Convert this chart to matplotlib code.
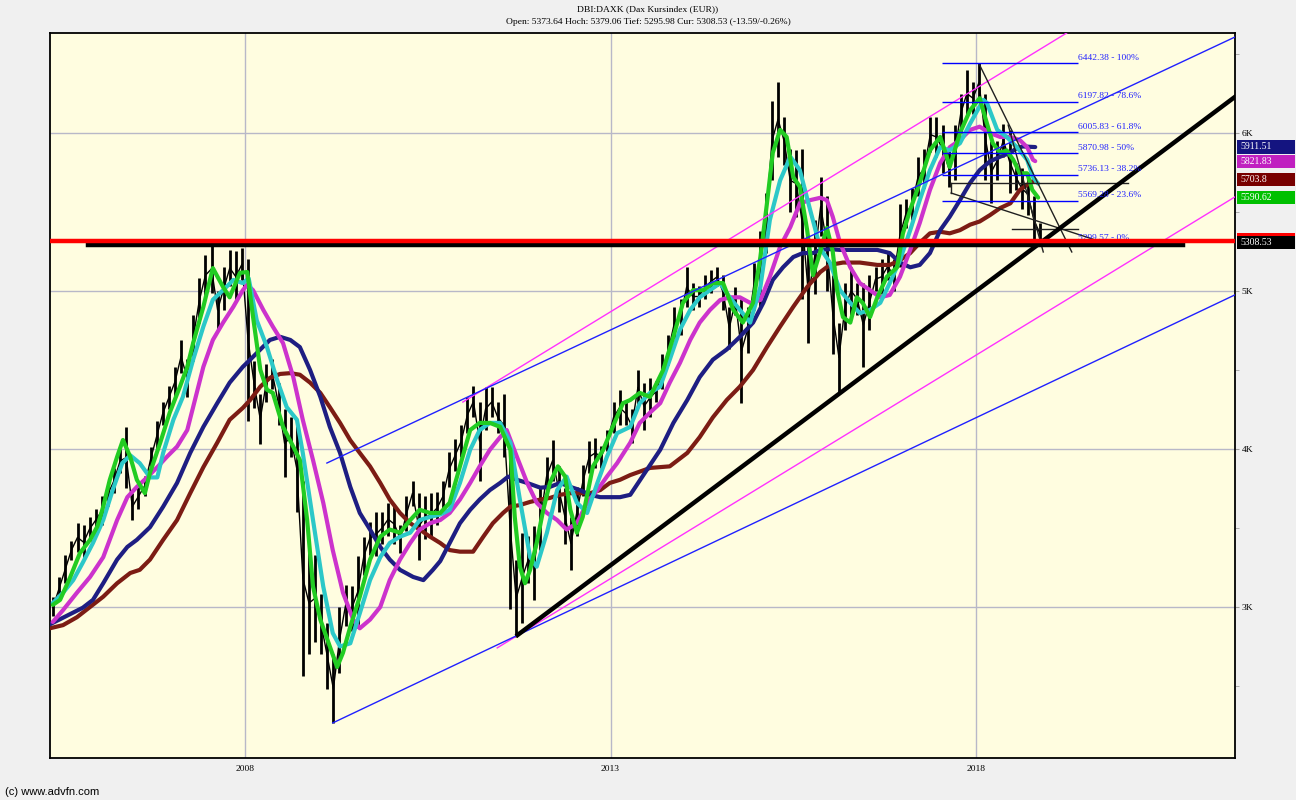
import matplotlib
matplotlib.use("Agg")
import matplotlib.pyplot as plt
import matplotlib.transforms as mtrans
from matplotlib.patches import Rectangle
import numpy as np

plt.rcParams["font.family"] = ["Liberation Serif", "DejaVu Serif"]

# monthly high / low of the index, May 2005 .. Nov 2018
bar_high = [
    3060, 3190, 3330, 3420, 3530, 3520, 3570, 3620,
    3700, 3790, 3880, 4000, 4140, 3720, 3780, 3830, 4010, 4180, 4300, 4400,
    4520, 4690, 4570, 4850, 5080, 5230, 5290, 5000, 5150, 5260, 5250, 5270,
    5200, 4560, 4350, 4540, 4570, 4420, 4250, 4200, 4150, 3800, 3350, 3330,
    3080, 2900, 2700, 3000, 3140, 3130, 3320, 3440, 3540, 3600, 3600, 3660,
    3650, 3520, 3700, 3800, 3720, 3700, 3720, 3730, 3800, 3980, 4060, 4150,
    4330, 4400, 4300, 4390, 4395, 4300, 4350, 4050, 3300, 3470, 3450, 3510,
    3750, 3950, 4055, 3890, 3750, 3570, 3760, 3900, 4050, 4070, 4020, 4120,
    4300, 4375, 4300, 4250, 4500, 4420, 4450, 4430, 4600, 4720, 4900, 4950,
    5150, 5050, 5030, 5100, 5130, 5150, 5100, 4900, 5025, 4950, 4900, 5180,
    5380, 5620, 6200, 6323, 6100, 5900, 5890, 5900, 5280, 5450, 5720, 5600,
    5100, 4800, 5050, 5150, 5050, 5050, 5100, 5150, 5200, 5240, 5200, 5550,
    5580, 5650, 5850, 5900, 6100, 6100, 6050, 5900, 6050, 6250, 6400, 6320,
    6442, 6250, 5950, 5950, 6060, 6020, 5810, 5780, 5745, 5600, 5430,
]
bar_low = [
    2940, 3050, 3150, 3300, 3350, 3300, 3420, 3480,
    3520, 3640, 3720, 3850, 3750, 3550, 3620, 3700, 3860, 3980, 4150, 4250,
    4330, 4480, 4330, 4560, 4800, 4970, 4990, 4760, 4880, 5030, 4930, 5070,
    4180, 4260, 4030, 4300, 4380, 4150, 3820, 3950, 3600, 2560, 2700, 2780,
    2700, 2480, 2265, 2580, 2880, 2850, 2870, 3200, 3330, 3320, 3400, 3450,
    3400, 3340, 3480, 3640, 3300, 3430, 3450, 3520, 3600, 3760, 3860, 3950,
    4100, 4200, 3800, 4120, 4200, 4100, 3950, 2990, 2810, 2900, 3150, 3045,
    3360, 3700, 3800, 3600, 3400, 3235, 3450, 3700, 3850, 3880, 3880, 3990,
    4100, 4150, 4150, 4040, 4280, 4120, 4200, 4300, 4380, 4530, 4700, 4720,
    4900, 4880, 4900, 4950, 4990, 5030, 4880, 4630, 4850, 4290, 4610, 4880,
    4900, 5240, 5700, 5850, 5800, 5500, 5470, 4950, 4670, 4980, 5350, 5000,
    4600, 4360, 4750, 4850, 4850, 4520, 4750, 5000, 4980, 5070, 5000, 5150,
    5400, 5450, 5600, 5650, 5880, 5850, 5750, 5660, 5700, 6000, 6100, 6120,
    6200, 5700, 5557, 5700, 5850, 5620, 5640, 5520, 5480, 5300, 5296,
]

# moving averages: (decimal year, value)
ma_green = [
    (2005.37, 3013), (2005.47, 3045), (2005.61, 3190), (2005.74, 3340), (2005.88, 3425),
    (2005.98, 3510), (2006.06, 3635), (2006.15, 3805), (2006.25, 3950), (2006.33, 4057),
    (2006.43, 3950), (2006.52, 3805), (2006.63, 3720), (2006.70, 3850), (2006.84, 4040),
    (2006.97, 4230), (2007.11, 4395), (2007.21, 4520), (2007.29, 4670), (2007.43, 4900),
    (2007.56, 5145), (2007.70, 5025), (2007.79, 4960), (2007.93, 5115), (2008.03, 5120),
    (2008.11, 4835), (2008.21, 4500), (2008.30, 4375), (2008.38, 4355), (2008.52, 4140),
    (2008.66, 4015), (2008.75, 3930), (2008.85, 3550), (2008.93, 3130), (2009.03, 2920),
    (2009.16, 2750), (2009.26, 2620), (2009.34, 2710), (2009.44, 2875), (2009.57, 3065),
    (2009.71, 3300), (2009.85, 3445), (2009.98, 3490), (2010.12, 3470), (2010.26, 3550),
    (2010.39, 3615), (2010.53, 3595), (2010.67, 3595), (2010.80, 3660), (2010.94, 3890),
    (2011.08, 4120), (2011.21, 4165), (2011.35, 4165), (2011.49, 4140), (2011.63, 3995),
    (2011.69, 3570), (2011.76, 3255), (2011.83, 3150), (2011.90, 3235), (2011.99, 3405),
    (2012.08, 3615), (2012.17, 3785), (2012.28, 3890), (2012.38, 3825), (2012.45, 3615),
    (2012.54, 3470), (2012.62, 3570), (2012.76, 3890), (2012.90, 3995), (2013.03, 4140),
    (2013.17, 4290), (2013.27, 4310), (2013.40, 4355), (2013.54, 4330), (2013.72, 4500),
    (2013.86, 4710), (2013.99, 4925), (2014.13, 5005), (2014.27, 5005), (2014.40, 5050),
    (2014.54, 5050), (2014.68, 4880), (2014.81, 4800), (2014.95, 4925), (2015.05, 5215),
    (2015.14, 5555), (2015.22, 5875), (2015.32, 6020), (2015.41, 5975), (2015.50, 5720),
    (2015.59, 5660), (2015.69, 5385), (2015.77, 5100), (2015.87, 5250), (2015.96, 5400),
    (2016.04, 5250), (2016.10, 5005), (2016.18, 4835), (2016.28, 4800), (2016.37, 4960),
    (2016.45, 4925), (2016.55, 4835), (2016.65, 4960), (2016.78, 5090), (2016.92, 5150),
    (2017.00, 5365), (2017.10, 5515), (2017.23, 5685), (2017.37, 5890), (2017.51, 5975),
    (2017.60, 5850), (2017.64, 5785), (2017.78, 6000), (2017.92, 6145), (2018.05, 6220),
    (2018.15, 6060), (2018.23, 5935), (2018.33, 5875), (2018.42, 5890), (2018.51, 5830),
    (2018.60, 5745), (2018.70, 5745), (2018.77, 5640), (2018.85, 5591),
]
ma_cyan = [
    (2005.37, 3025), (2005.51, 3090), (2005.65, 3170), (2005.78, 3280), (2005.92, 3405),
    (2006.06, 3550), (2006.19, 3740), (2006.32, 3910), (2006.43, 3960), (2006.56, 3910),
    (2006.70, 3820), (2006.80, 3820), (2006.88, 3975), (2007.02, 4185), (2007.15, 4330),
    (2007.29, 4565), (2007.43, 4775), (2007.56, 4945), (2007.70, 5005), (2007.84, 5070),
    (2007.97, 5050), (2008.05, 5080), (2008.16, 4815), (2008.30, 4645), (2008.44, 4435),
    (2008.57, 4265), (2008.71, 4185), (2008.79, 3975), (2008.93, 3550), (2009.07, 3130),
    (2009.20, 2835), (2009.30, 2750), (2009.44, 2770), (2009.57, 2960), (2009.71, 3170),
    (2009.85, 3315), (2009.98, 3405), (2010.12, 3445), (2010.26, 3470), (2010.39, 3550),
    (2010.53, 3570), (2010.67, 3585), (2010.80, 3615), (2010.94, 3785), (2011.08, 3995),
    (2011.21, 4120), (2011.35, 4165), (2011.49, 4165), (2011.63, 4040), (2011.76, 3680),
    (2011.90, 3315), (2011.99, 3255), (2012.13, 3470), (2012.27, 3740), (2012.40, 3825),
    (2012.54, 3660), (2012.68, 3595), (2012.82, 3785), (2012.95, 3950), (2013.09, 4100),
    (2013.27, 4140), (2013.40, 4290), (2013.54, 4355), (2013.68, 4395), (2013.81, 4565),
    (2013.95, 4755), (2014.09, 4880), (2014.22, 4960), (2014.36, 5005), (2014.50, 5050),
    (2014.63, 4960), (2014.77, 4880), (2014.91, 4800), (2015.05, 5025), (2015.18, 5450),
    (2015.32, 5700), (2015.46, 5850), (2015.59, 5765), (2015.73, 5515), (2015.87, 5270),
    (2016.00, 5180), (2016.14, 5005), (2016.28, 4925), (2016.41, 4860), (2016.55, 4880),
    (2016.69, 4925), (2016.82, 5050), (2016.96, 5195), (2017.10, 5385), (2017.23, 5575),
    (2017.37, 5765), (2017.51, 5910), (2017.64, 5890), (2017.78, 5935), (2017.92, 6060),
    (2018.10, 6210), (2018.15, 6190), (2018.29, 6020), (2018.42, 5975), (2018.56, 5910),
    (2018.70, 5830), (2018.78, 5720), (2018.85, 5680),
]
ma_magenta = [
    (2005.37, 2905), (2005.51, 2980), (2005.70, 3090), (2005.88, 3190), (2006.06, 3315),
    (2006.25, 3550), (2006.39, 3695), (2006.52, 3760), (2006.66, 3820), (2006.80, 3885),
    (2006.93, 3950), (2007.07, 4015), (2007.21, 4120), (2007.29, 4265), (2007.43, 4520),
    (2007.56, 4690), (2007.70, 4800), (2007.84, 4900), (2007.97, 5005), (2008.03, 5040),
    (2008.11, 5005), (2008.25, 4880), (2008.38, 4775), (2008.52, 4670), (2008.66, 4455),
    (2008.79, 4185), (2008.93, 3930), (2009.07, 3660), (2009.20, 3360), (2009.34, 3090),
    (2009.48, 2920), (2009.57, 2865), (2009.71, 2920), (2009.85, 3000), (2009.98, 3170),
    (2010.12, 3300), (2010.26, 3405), (2010.39, 3490), (2010.53, 3530), (2010.67, 3550),
    (2010.80, 3595), (2010.94, 3680), (2011.08, 3785), (2011.21, 3890), (2011.35, 3995),
    (2011.49, 4075), (2011.58, 4120), (2011.72, 3950), (2011.86, 3785), (2011.99, 3660),
    (2012.13, 3595), (2012.27, 3550), (2012.40, 3490), (2012.54, 3530), (2012.68, 3660),
    (2012.82, 3740), (2012.95, 3825), (2013.09, 3910), (2013.27, 4040), (2013.40, 4165),
    (2013.54, 4230), (2013.68, 4290), (2013.81, 4420), (2013.95, 4545), (2014.09, 4690),
    (2014.22, 4800), (2014.36, 4880), (2014.50, 4943), (2014.63, 4960), (2014.77, 4960),
    (2014.91, 4925), (2015.05, 4943), (2015.18, 5090), (2015.32, 5280), (2015.46, 5405),
    (2015.59, 5555), (2015.73, 5575), (2015.87, 5590), (2015.96, 5575), (2016.04, 5470),
    (2016.14, 5305), (2016.28, 5150), (2016.41, 5050), (2016.55, 5005), (2016.69, 4960),
    (2016.82, 4975), (2016.96, 5090), (2017.10, 5260), (2017.23, 5430), (2017.37, 5640),
    (2017.51, 5810), (2017.64, 5910), (2017.78, 5955), (2017.92, 6020), (2018.05, 6040),
    (2018.19, 6000), (2018.33, 5975), (2018.47, 5975), (2018.60, 5955), (2018.70, 5910),
    (2018.78, 5830), (2018.81, 5822),
]
ma_navy = [
    (2005.33, 2890), (2005.78, 2995), (2005.92, 3045), (2006.06, 3150), (2006.25, 3300),
    (2006.39, 3380), (2006.52, 3425), (2006.70, 3505), (2006.88, 3635), (2007.07, 3785),
    (2007.25, 3975), (2007.43, 4140), (2007.62, 4290), (2007.79, 4420), (2007.97, 4520),
    (2008.07, 4565), (2008.21, 4630), (2008.34, 4690), (2008.48, 4710), (2008.62, 4690),
    (2008.75, 4645), (2008.89, 4500), (2009.03, 4330), (2009.16, 4140), (2009.30, 3975),
    (2009.44, 3760), (2009.57, 3595), (2009.71, 3490), (2009.85, 3380), (2009.98, 3300),
    (2010.12, 3235), (2010.30, 3190), (2010.44, 3170), (2010.57, 3235), (2010.67, 3290),
    (2010.80, 3405), (2010.94, 3530), (2011.08, 3615), (2011.21, 3680), (2011.35, 3740),
    (2011.49, 3785), (2011.60, 3825), (2011.72, 3805), (2011.86, 3785), (2012.04, 3755),
    (2012.17, 3760), (2012.31, 3785), (2012.45, 3760), (2012.58, 3740), (2012.72, 3710),
    (2012.86, 3695), (2012.99, 3695), (2013.13, 3695), (2013.27, 3710), (2013.50, 3870),
    (2013.68, 3995), (2013.86, 4165), (2014.05, 4310), (2014.22, 4455), (2014.40, 4565),
    (2014.59, 4630), (2014.77, 4710), (2014.95, 4800), (2015.09, 4925), (2015.22, 5070),
    (2015.36, 5150), (2015.50, 5215), (2015.63, 5240), (2015.77, 5240), (2015.87, 5260),
    (2016.00, 5265), (2016.14, 5260), (2016.41, 5260), (2016.65, 5260), (2016.82, 5240),
    (2016.96, 5180), (2017.10, 5150), (2017.23, 5165), (2017.37, 5240), (2017.51, 5385),
    (2017.64, 5470), (2017.78, 5575), (2017.92, 5685), (2018.05, 5765), (2018.19, 5820),
    (2018.33, 5850), (2018.47, 5875), (2018.56, 5905), (2018.64, 5915), (2018.81, 5911),
]
ma_brown = [
    (2005.33, 2865), (2005.51, 2885), (2005.70, 2935), (2005.88, 3000), (2006.06, 3065),
    (2006.25, 3150), (2006.43, 3215), (2006.56, 3235), (2006.70, 3300), (2006.88, 3425),
    (2007.07, 3550), (2007.25, 3720), (2007.43, 3885), (2007.62, 4040), (2007.79, 4185),
    (2007.97, 4260), (2008.07, 4310), (2008.21, 4395), (2008.34, 4450), (2008.48, 4475),
    (2008.62, 4480), (2008.75, 4470), (2008.89, 4420), (2009.03, 4355), (2009.16, 4265),
    (2009.30, 4165), (2009.44, 4055), (2009.57, 3975), (2009.71, 3890), (2009.85, 3785),
    (2009.98, 3680), (2010.12, 3595), (2010.26, 3530), (2010.39, 3490), (2010.53, 3445),
    (2010.67, 3405), (2010.80, 3360), (2010.94, 3350), (2011.12, 3350), (2011.26, 3445),
    (2011.39, 3530), (2011.53, 3595), (2011.63, 3635), (2011.76, 3645), (2011.90, 3665),
    (2012.04, 3680), (2012.17, 3690), (2012.31, 3710), (2012.45, 3720), (2012.58, 3720),
    (2012.72, 3720), (2012.86, 3740), (2012.99, 3785), (2013.13, 3805), (2013.27, 3835),
    (2013.54, 3880), (2013.81, 3890), (2014.05, 3975), (2014.22, 4075), (2014.40, 4200),
    (2014.59, 4310), (2014.77, 4395), (2014.95, 4500), (2015.14, 4645), (2015.32, 4775),
    (2015.50, 4900), (2015.69, 5025), (2015.87, 5120), (2016.00, 5165), (2016.18, 5180),
    (2016.41, 5180), (2016.65, 5165), (2016.82, 5165), (2016.96, 5195), (2017.10, 5240),
    (2017.23, 5305), (2017.37, 5365), (2017.51, 5375), (2017.64, 5365), (2017.78, 5385),
    (2017.92, 5420), (2018.05, 5440), (2018.19, 5480), (2018.33, 5525), (2018.47, 5555),
    (2018.60, 5640), (2018.74, 5685), (2018.81, 5704),
]

# fibonacci retracement of the 2018 top
fib_levels = [6442.38, 6197.82, 6005.83, 5870.98, 5736.13, 5569.28, 5299.57]
fib_pct = ["100%", "78.6%", "61.8%", "50%", "38.2%", "23.6%", "0%"]

# drawn trend lines: ((year, value), (year, value))
trend_black = ((2011.73, 2823), (2021.54, 6228))
channel_magenta = [((2010.98, 4297), (2019.24, 6633)), ((2011.45, 2741), (2021.54, 5595))]
channel_blue = [((2009.12, 3911), (2021.54, 6607)), ((2009.20, 2266), (2021.54, 4975))]
thin_black = [
    ((2018.05, 6430), (2019.31, 5247)),
    ((2018.44, 6050), (2018.92, 5247)),
    ((2017.66, 5684), (2020.08, 5684)),
    ((2017.66, 5684), (2017.66, 5620)),
    ((2017.66, 5620), (2019.76, 5304)),
    ((2018.49, 5392), (2019.39, 5392)),
]
red_level = 5318
support_level = 5290

last_values = [("5911.51", "#141480"), ("5821.83", "#c020c0"), ("5703.8", "#780000"),
               ("5590.62", "#00c000")]
last_close = 5308.53

col_green = "#22cc22"
col_cyan = "#2cc8c8"
col_magenta = "#cc33cc"
col_navy = "#1e1e82"
col_brown = "#7c1c14"

fig = plt.figure(figsize=(12.96, 8), dpi=100, facecolor="#f0f0f0")
ax = fig.add_axes([50 / 1296, 42 / 800, 1185 / 1296, 725 / 800])
ax.set_facecolor("#fffde0")
ax.set_xlim(2005.332, 2021.543)
ax.set_ylim(2044, 6633)

months = 2005 + (4 + np.arange(len(bar_high)) + 0.5) / 12
ax.vlines(months, bar_low, bar_high, colors="black", lw=2.0, zorder=2)
ax.plot(months, (np.array(bar_high) + np.array(bar_low)) / 2, color="black", lw=1.0, zorder=2)

for series, col in [(ma_brown, col_brown), (ma_navy, col_navy), (ma_magenta, col_magenta),
                    (ma_cyan, col_cyan), (ma_green, col_green)]:
    t, v = np.array(series).T
    ax.plot(t, v, color=col, lw=3.0, solid_capstyle="round", solid_joinstyle="round",
            zorder=3)

for (x0, y0), (x1, y1) in channel_magenta:
    ax.plot([x0, x1], [y0, y1], color="#ff30ff", lw=1, zorder=4)
for (x0, y0), (x1, y1) in channel_blue:
    ax.plot([x0, x1], [y0, y1], color="#2020ff", lw=1, zorder=4)
for (x0, y0), (x1, y1) in thin_black:
    ax.plot([x0, x1], [y0, y1], color="#202020", lw=1, zorder=4)
(x0, y0), (x1, y1) = trend_black
ax.plot([x0, x1], [y0, y1], color="black", lw=3.2, zorder=5)

ax.hlines(fib_levels, 2017.53, 2019.39, colors="#0000ff", lw=1, zorder=4)
for lvl, pct in zip(fib_levels, fib_pct):
    ax.text(2019.40, lvl + 10, f"{lvl:.2f} - {pct}", color="#2020ff", fontsize=6.8,
            ha="left", va="bottom", zorder=6)

ax.plot([2005.85, 2020.83], [support_level, support_level], color="black", lw=3.2, zorder=5)
ax.axhline(red_level, color="#ff0000", lw=3.2, zorder=6)

# axes, grid, ticks
ax.set_xticks([2008, 2013, 2018])
ax.set_xticklabels(["2008", "2013", "2018"])
ax.set_yticks([3000, 4000, 5000, 6000])
ax.set_yticklabels(["3K", "4K", "5K", "6K"])
ax.set_yticks([2500, 3500, 4500, 5500, 6500], minor=True)
ax.grid(True, which="major", color="#b8b8c8", lw=1, zorder=0)
ax.set_axisbelow(True)
ax.tick_params(axis="x", length=0, pad=5, labelsize=6.8)
ax.tick_params(axis="y", which="both", left=False, right=True, labelleft=False,
               labelright=True, labelsize=6.8, pad=2, length=3, color="#a0a0a0")
for s in ax.spines.values():
    s.set_color("black")
    s.set_linewidth(1.3)

# value boxes at the right margin
trans = mtrans.blended_transform_factory(ax.transAxes, ax.transData)
box_h = 84


def value_box(val, col, lo=0.5):
    ax.add_patch(Rectangle((1.0017, val - box_h * lo), 0.0489, box_h, transform=trans,
                           facecolor=col, edgecolor="none", clip_on=False, zorder=7))


def value_text(txt, val):
    ax.text(1.0045, val, txt, transform=trans, color="white", fontsize=7, va="center",
            ha="left", clip_on=False, zorder=8)


for txt, col in last_values:
    value_box(float(txt), col)
    value_text(txt, float(txt))
value_box(red_level, "#ff0000", lo=0.4)
value_box(last_close, "black")
value_text(f"{last_close:.2f}", last_close)

fig.text(0.5, 1 - 9 / 800, "DBI:DAXK (Dax Kursindex (EUR))", ha="center", va="center",
         fontsize=6.8)
fig.text(0.5, 1 - 22 / 800,
         "Open: 5373.64 Hoch: 5379.06 Tief: 5295.98 Cur: 5308.53 (-13.59/-0.26%)",
         ha="center", va="center", fontsize=6.8)
fig.text(5 / 1296, 1 - 792 / 800, "(c) www.advfn.com", ha="left", va="center",
         fontsize=8, family=["Liberation Sans", "DejaVu Sans"])

fig.savefig("out.png", dpi=100, facecolor=fig.get_facecolor())
